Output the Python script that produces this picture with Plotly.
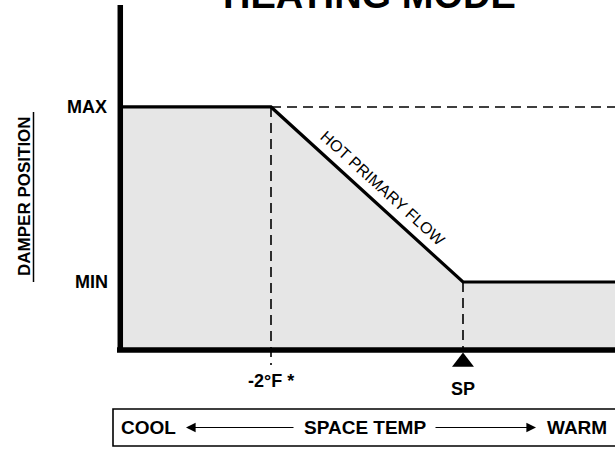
import plotly.graph_objects as go

# ---- data (x: degrees F relative to setpoint, y: damper position %) ----
x_edges = [-3.57, 1.62]         # left axis position, right edge of diagram
break_temp = -2                  # -2°F point
setpoint = 0                     # SP
damper_levels = {"MAX": 100, "MIN": 28}
curve_x = [x_edges[0], break_temp, setpoint, x_edges[1]]
curve_y = [damper_levels["MAX"], damper_levels["MAX"], damper_levels["MIN"], damper_levels["MIN"]]
x_tick_labels = ["-2°F *", "SP"]
title_text = "HEATING MODE"
curve_label = "HOT PRIMARY FLOW"
y_title = "DAMPER POSITION"
scale_labels = ["COOL", "SPACE TEMP", "WARM"]

W, H = 640, 449                  # canvas slightly wider than the 615px view; the diagram runs off its right edge
XR = [-463 / 96.0, -463 / 96.0 + W / 96.0]
YR = [144.0 - 184.7, 144.0]
px_x = (XR[1] - XR[0]) / W      # data units per pixel
px_y = (YR[1] - YR[0]) / H
def X(p):  # pixel column -> data x (layout position helper)
    return XR[0] + p * px_x
def Y(p):  # pixel row -> data y
    return YR[1] - p * px_y

FONT = "Liberation Sans, Arial, sans-serif"
BLACK = "#000000"
FILL = "#e6e6e6"
DASH = "10px,6px"

fig = go.Figure()

# shaded area under curve
fig.add_trace(go.Scatter(
    x=curve_x + [curve_x[-1], curve_x[0]],
    y=curve_y + [0, 0],
    fill="toself", fillcolor=FILL, mode="none", hoverinfo="skip"))

# dashed MAX reference line and verticals
fig.add_trace(go.Scatter(
    x=[break_temp, x_edges[1]], y=[damper_levels["MAX"]] * 2,
    mode="lines", line=dict(color=BLACK, width=1.6, dash=DASH), hoverinfo="skip"))
fig.add_trace(go.Scatter(
    x=[break_temp, break_temp], y=[damper_levels["MAX"], Y(365)],
    mode="lines", line=dict(color=BLACK, width=1.6, dash=DASH), hoverinfo="skip"))
fig.add_trace(go.Scatter(
    x=[setpoint, setpoint], y=[damper_levels["MIN"], 0],
    mode="lines", line=dict(color=BLACK, width=1.6, dash=DASH), hoverinfo="skip"))

# main curve
fig.add_trace(go.Scatter(
    x=curve_x, y=curve_y, mode="lines",
    line=dict(color=BLACK, width=3.2), hoverinfo="skip"))

# axes lines
fig.add_trace(go.Scatter(
    x=[x_edges[0], x_edges[0]], y=[Y(352), Y(5)], mode="lines",
    line=dict(color=BLACK, width=5.5), hoverinfo="skip"))
fig.add_trace(go.Scatter(
    x=[X(117), x_edges[1]], y=[0, 0], mode="lines",
    line=dict(color=BLACK, width=5.5), hoverinfo="skip"))

# setpoint triangle marker
fig.add_trace(go.Scatter(
    x=[setpoint], y=[Y(362)], mode="markers",
    marker=dict(symbol="triangle-up", size=19, color=BLACK), hoverinfo="skip"))

# bottom scale box (open on the right: it runs off the page)
fig.add_trace(go.Scatter(
    x=[X(630), X(113), X(113), X(630)], y=[Y(409), Y(409), Y(446), Y(446)],
    mode="lines", line=dict(color=BLACK, width=1.6), hoverinfo="skip"))

ann = []
def txt(x, y, s, size=18, bold=True, xanchor="center", yanchor="middle", angle=0):
    ann.append(dict(x=x, y=y, xref="x", yref="y", text=(f"<b>{s}</b>" if bold else s),
                    showarrow=False, xanchor=xanchor, yanchor=yanchor, textangle=angle,
                    font=dict(family=FONT, size=size, color=BLACK)))

# level labels
txt(X(109), damper_levels["MAX"], "MAX", xanchor="right")
txt(X(110), damper_levels["MIN"], "MIN", xanchor="right")
# x tick labels
txt(break_temp, Y(381), x_tick_labels[0])
txt(setpoint, Y(389), x_tick_labels[1])
# y title (rotated) + underline
txt(X(24), Y(196), y_title, size=17, angle=-90)
fig.add_shape(type="line", xref="x", yref="y",
              x0=X(33.5), x1=X(33.5), y0=Y(112), y1=Y(282),
              line=dict(color=BLACK, width=1.5))
# curve label along slope
slope_mid_x = (break_temp + setpoint) / 2
slope_mid_y = (damper_levels["MAX"] + damper_levels["MIN"]) / 2
txt(slope_mid_x + 16 * px_x, slope_mid_y + 6 * px_y, curve_label, size=16, bold=False, angle=42.3)

# title (mostly clipped at top, as in the original)
ann.append(dict(x=X(369.5), y=Y(18.5), xref="x", yref="y",
                text=f"<b>{title_text}</b>", showarrow=False, xanchor="center", yanchor="bottom",
                font=dict(family=FONT, size=38, color=BLACK)))

ymid = Y(427.5)
txt(X(119), ymid, scale_labels[0], size=19, xanchor="left")
txt(X(365), ymid, scale_labels[1], size=19)
txt(X(609), ymid, scale_labels[2], size=19, xanchor="right")
# arrows
for tail, head in [(295, 186), (434, 536)]:
    ann.append(dict(x=X(head), y=ymid, ax=X(tail), ay=ymid,
                    xref="x", yref="y", axref="x", ayref="y", text="", showarrow=True,
                    arrowhead=2, arrowsize=1.6, arrowwidth=1.2, arrowcolor=BLACK))

fig.update_layout(
    width=W, height=H, margin=dict(l=0, r=0, t=0, b=0),
    paper_bgcolor="white", plot_bgcolor="white", showlegend=False,
    xaxis=dict(range=XR, visible=False, fixedrange=True),
    yaxis=dict(range=YR, visible=False, fixedrange=True),
    annotations=ann)

fig.write_html("out.html", config={"displayModeBar": False, "staticPlot": True},
               post_script="document.body.style.margin='0';document.body.style.overflow='hidden';"
                           "document.documentElement.style.overflow='hidden';")
